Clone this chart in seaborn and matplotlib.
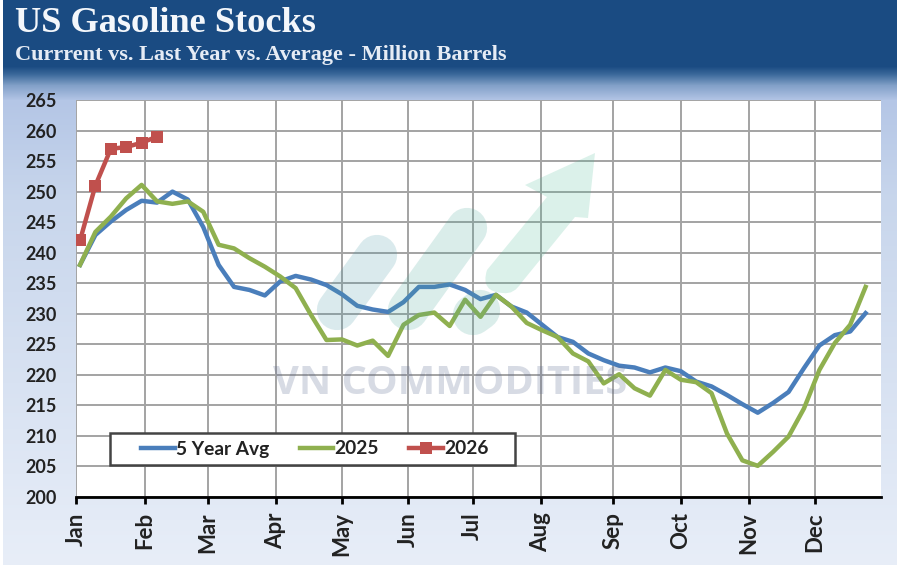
import numpy as np
import pandas as pd
import matplotlib.pyplot as plt
from matplotlib.path import Path
from matplotlib.patches import PathPatch, Rectangle
import seaborn as sns

# Weekly values (million barrels)
avg_5yr = [238.0, 242.9, 245.1, 247.0, 248.5, 248.2, 250.0, 248.7, 244.2, 238.0, 234.4, 233.9, 233.0,
           235.3, 236.2, 235.6, 234.7, 233.2, 231.3, 230.7, 230.3, 231.9, 234.4, 234.4, 234.8, 233.9,
           232.4, 233.1, 231.2, 230.2, 228.2, 226.2, 225.4, 223.5, 222.4, 221.5, 221.2, 220.4, 221.2,
           220.6, 218.9, 218.1, 216.7, 215.2, 213.8, 215.4, 217.2, 221.1, 224.8, 226.5, 227.1, 230.1]
stocks_2025 = [238.0, 243.4, 245.9, 248.9, 251.1, 248.4, 248.0, 248.4, 246.7, 241.3, 240.7, 239.1, 237.7,
               236.1, 234.2, 229.8, 225.7, 225.8, 224.8, 225.6, 223.1, 228.2, 229.8, 230.2, 228.0, 232.3,
               229.5, 233.1, 231.2, 228.5, 227.3, 226.2, 223.5, 222.2, 218.6, 220.1, 217.8, 216.6, 220.8,
               219.2, 218.8, 217.0, 210.4, 206.0, 205.1, 207.4, 209.9, 214.5, 220.8, 225.2, 228.2, 234.4]
stocks_2026 = [242.0, 251.0, 257.0, 257.3, 258.0, 259.0]

months = ["Jan", "Feb", "Mar", "Apr", "May", "Jun", "Jul", "Aug", "Sep", "Oct", "Nov", "Dec"]
month_weeks = [-0.26, 4.2, 8.3, 12.7, 17.0, 21.3, 25.5, 29.9, 34.6, 39.0, 43.4, 47.7]
y_ticks = list(range(200, 270, 5))

plt.rcParams["font.family"] = ["Lato", "DejaVu Sans"]

fig = plt.figure(figsize=(9, 5.65), dpi=100)

# Background panel, in pixel coordinates
bg = fig.add_axes([0, 0, 1, 1], zorder=-1)
stops_y = [0, 66, 74, 85, 100, 200, 565]
stops_r = [26, 26, 60, 130, 180, 200, 232]
stops_g = [75, 75, 105, 160, 198, 214, 238]
stops_b = [130, 130, 155, 200, 230, 236, 248]
rows = np.arange(565)
grad = np.stack([np.interp(rows, stops_y, stops_r),
                 np.interp(rows, stops_y, stops_g),
                 np.interp(rows, stops_y, stops_b)], axis=1)[:, None, :] / 255
bg.imshow(grad, extent=[3, 897, 565, 0], aspect="auto", zorder=0)
bg.set_xlim(0, 900)
bg.set_ylim(565, 0)
bg.axis("off")

fig.text(15 / 900, 1 - 23 / 565, "US Gasoline Stocks", family="Liberation Serif", weight="bold",
         size=26.2, color="#f4f7fb", va="center")
fig.text(15 / 900, 1 - 55 / 565, "Currrent vs. Last Year vs. Average - Million Barrels",
         family="Liberation Serif", weight="bold", size=16, color="#e6ecf5", va="center")

# Main chart
ax = fig.add_axes([76 / 900, 1 - 497 / 565, 805 / 900, 397 / 565])
ax.set_facecolor("white")
weeks = np.arange(len(avg_5yr))
df = pd.DataFrame({"week": weeks, "avg": avg_5yr, "y2025": stocks_2025})
df_2026 = pd.DataFrame({"week": weeks[:len(stocks_2026)], "y2026": stocks_2026})

sns.lineplot(data=df, x="week", y="avg", color="#4a7ebb", lw=3.2, label="5 Year Avg", ax=ax, zorder=3)
sns.lineplot(data=df, x="week", y="y2025", color="#8fb04f", lw=3.2, label="2025", ax=ax, zorder=4)
sns.lineplot(data=df_2026, x="week", y="y2026", color="#c0504d", lw=3.2, marker="s", markersize=8,
             markeredgewidth=0, label="2026", ax=ax, zorder=5)

ax.set_xlim(-0.26, 52)
ax.set_ylim(200, 265)
ax.set_xticks(month_weeks)
ax.set_xticklabels(months, rotation=90, ha="center", va="top", weight="bold", size=16, color="#222222")
ax.set_yticks(y_ticks)
ax.set_yticklabels(y_ticks, weight="bold", size=13, color="#222222")
ax.tick_params(axis="y", length=0, pad=14)
ax.tick_params(axis="x", length=5, width=2, color="black", pad=6)
ax.grid(True, color="#a3a3a3", lw=1.4)
ax.set_axisbelow(True)
ax.set_xlabel("")
ax.set_ylabel("")
for side in ["top", "right", "left"]:
    ax.spines[side].set_visible(False)
ax.spines["bottom"].set_color("black")
ax.spines["bottom"].set_linewidth(2)

# Legend box is wider than its entries, so the frame is its own patch
ax.add_patch(Rectangle((34 / 805, 32 / 397), 405 / 805, 32 / 397, transform=ax.transAxes, facecolor="white",
                       edgecolor="#444444", lw=1.8, zorder=6))
leg = ax.legend(loc="center left", bbox_to_anchor=(65 / 805, 48 / 397), ncol=3, frameon=False, borderpad=0,
                borderaxespad=0, columnspacing=1.6, handlelength=1.76, handletextpad=0.05,
                prop={"weight": "bold", "size": 13.8})
leg.set_zorder(7)
for text in leg.get_texts():
    text.set_color("#222222")

# Watermark over the plot
wm = fig.add_axes([0, 0, 1, 1], zorder=6)
wm.set_xlim(0, 900)
wm.set_ylim(565, 0)
wm.axis("off")
wm.plot([337, 377], [310, 255], color="#4a9aa5", lw=29, alpha=0.2, solid_capstyle="round")
wm.plot([408, 467], [310, 228], color="#4aa59a", lw=29, alpha=0.2, solid_capstyle="round")
wm.plot([473, 480], [315, 310], color="#4aa59a", lw=29, alpha=0.2, solid_capstyle="round")
arrow = Path([(487, 270), (480, 292), (503, 293), (514, 295), (522, 282), (575, 217), (588, 218), (595, 153),
              (525, 185), (547, 197), (487, 270)],
             [Path.MOVETO, Path.CURVE3, Path.CURVE3, Path.CURVE3, Path.CURVE3, Path.LINETO, Path.LINETO,
              Path.LINETO, Path.LINETO, Path.LINETO, Path.CLOSEPOLY])
wm.add_patch(PathPatch(arrow, facecolor="#4dbb96", edgecolor="none", alpha=0.2))
wm.text(450, 384, "VN COMMODITIES", family="Open Sans", weight="bold", size=28.6, color="#5a6a90",
        alpha=0.24, ha="center", va="center")

plt.savefig("out.png", dpi=100)
